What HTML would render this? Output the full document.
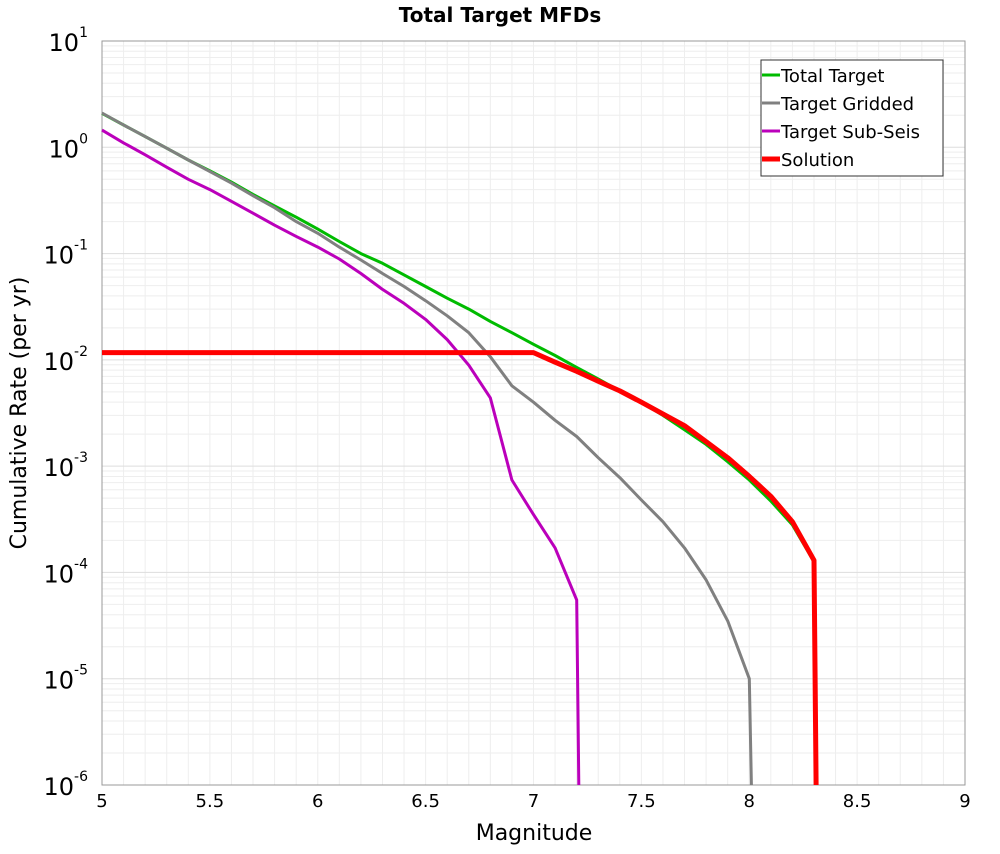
<!DOCTYPE html>
<html><head><meta charset="utf-8"><style>
body{margin:0;background:#fff;font-family:"DejaVu Sans","Liberation Sans",sans-serif;}
svg{font-family:"DejaVu Sans","Liberation Sans",sans-serif;}
</style></head><body>
<svg width="1000" height="850" xmlns="http://www.w3.org/2000/svg">
<g id="grid"></g>
<g id="axes"></g>
<g id="series"></g>
<text x="500" y="22" text-anchor="middle" font-size="20" font-weight="bold">Total Target MFDs</text>
<text x="534" y="840" text-anchor="middle" font-size="22">Magnitude</text>
<text transform="translate(26,413) rotate(-90)" text-anchor="middle" font-size="22">Cumulative Rate (per yr)</text>
<g>
<rect x="761" y="60" width="182" height="116" fill="#fff" stroke="#333" stroke-width="1"/>
<g><line x1="762" y1="75" x2="780" y2="75" stroke="#00bb00" stroke-width="3"/><text x="781" y="82" font-size="18">Total Target</text></g>
<g><line x1="762" y1="103" x2="780" y2="103" stroke="#808080" stroke-width="3"/><text x="781" y="110" font-size="18">Target Gridded</text></g>
<g><line x1="762" y1="131" x2="780" y2="131" stroke="#bb00bb" stroke-width="3"/><text x="781" y="138" font-size="18">Target Sub-Seis</text></g>
<g><line x1="762" y1="159" x2="780" y2="159" stroke="#ff0000" stroke-width="5"/><text x="781" y="166" font-size="18">Solution</text></g>
</g>
</svg>
<script>
const greenM=[5.0,5.1,5.2,5.3,5.4,5.5,5.6,5.7,5.8,5.9,6.0,6.1,6.2,6.3,6.4,6.5,6.6,6.7,6.8,6.9,7.0,7.1,7.2,7.3,7.4,7.5,7.6,7.7,7.8,7.9,8.0,8.1,8.2,8.3,8.31];
const greenV=[2.09,1.62,1.26,0.98,0.76,0.60,0.47,0.36,0.28,0.22,0.17,0.13,0.10,0.081,0.063,0.049,0.038,0.030,0.023,0.018,0.014,0.011,0.0085,0.0066,0.0051,0.0040,0.0030,0.0022,0.0016,0.0011,0.00074,0.00047,0.00028,0.000126,1e-6];
const grayM=[5.0,5.1,5.2,5.3,5.4,5.5,5.6,5.7,5.8,5.9,6.0,6.1,6.2,6.3,6.4,6.5,6.6,6.7,6.8,6.9,7.0,7.1,7.2,7.3,7.4,7.5,7.6,7.7,7.8,7.9,8.0,8.01];
const grayV=[2.1,1.62,1.26,0.98,0.76,0.59,0.46,0.35,0.27,0.20,0.155,0.115,0.087,0.065,0.049,0.036,0.026,0.018,0.0107,0.0057,0.0040,0.0027,0.0019,0.0012,0.00078,0.00048,0.00030,0.00017,0.000085,0.000035,0.00001,1e-6];
const subM=[5.0,5.1,5.2,5.3,5.4,5.5,5.6,5.7,5.8,5.9,6.0,6.1,6.2,6.3,6.4,6.5,6.6,6.7,6.8,6.9,7.0,7.1,7.2,7.21];
const subV=[1.45,1.1,0.85,0.65,0.5,0.40,0.31,0.24,0.185,0.145,0.115,0.089,0.065,0.046,0.034,0.024,0.0155,0.0089,0.0044,0.00074,0.00035,0.00017,0.000055,1e-6];
const solM=[5.0,7.0,7.1,7.2,7.3,7.4,7.5,7.6,7.7,7.8,7.9,8.0,8.1,8.2,8.3,8.31];
const solV=[0.0117,0.0117,0.0095,0.0078,0.0063,0.0051,0.0040,0.0031,0.0024,0.0017,0.0012,0.00080,0.00052,0.00030,0.000130,1e-6];
const xTicks=[5,5.5,6,6.5,7,7.5,8,8.5,9];
const yExps=[1,0,-1,-2,-3,-4,-5,-6];
const X0=102,X1=965,Y0=41,Y1=785;
const xs=m=>X0+(m-5)/4*(X1-X0);
const ys=v=>Y0+(1-Math.log10(v))/7*(Y1-Y0);
const NS="http://www.w3.org/2000/svg";
function mk(p,t,a){const e=document.createElementNS(NS,t);for(const k in a)e.setAttribute(k,a[k]);p.appendChild(e);return e;}
const grid=document.getElementById('grid'),axes=document.getElementById('axes'),ser=document.getElementById('series');
for(let m=5;m<=9.001;m+=0.1){const l=mk(grid,'line',{x1:xs(m),x2:xs(m),y1:Y0,y2:Y1,stroke:'#eee','stroke-width':1});

}
for(let e=-6;e<1;e++)for(let k=1;k<10;k++){const v=k*Math.pow(10,e);const l=mk(grid,'line',{x1:X0,x2:X1,y1:ys(v),y2:ys(v),stroke:k==1?'#ddd':'#eee','stroke-width':1});

}
const fr=mk(axes,'rect',{x:X0,y:Y0,width:X1-X0,height:Y1-Y0,fill:'none',stroke:'#999','stroke-width':1});


xTicks.forEach(t=>{const tx=mk(axes,'text',{x:xs(t),y:Y1+22,'text-anchor':'middle','font-size':18});tx.textContent=String(t);

});
yExps.forEach(e=>{const tx=mk(axes,'text',{x:X0-14,y:ys(Math.pow(10,e))+10,'text-anchor':'end','font-size':24});tx.textContent='10';


const sp=mk(tx,'tspan',{dy:-14,'font-size':14});sp.textContent=String(e);});
function line(M,V,c,w,name){const d=M.map((m,i)=>(i?'L':'M')+xs(m).toFixed(1)+','+ys(V[i]).toFixed(1)).join('');
const p=mk(ser,'path',{d:d,fill:'none',stroke:c,'stroke-width':w,'stroke-linejoin':'round'});

}
line(greenM,greenV,'#00bb00',3,'total-target-line');
line(grayM,grayV,'#808080',3,'target-gridded-line');
line(subM,subV,'#bb00bb',3,'target-sub-seis-line');
line(solM,solV,'#ff0000',5,'solution-line');
</script>
</body></html>
